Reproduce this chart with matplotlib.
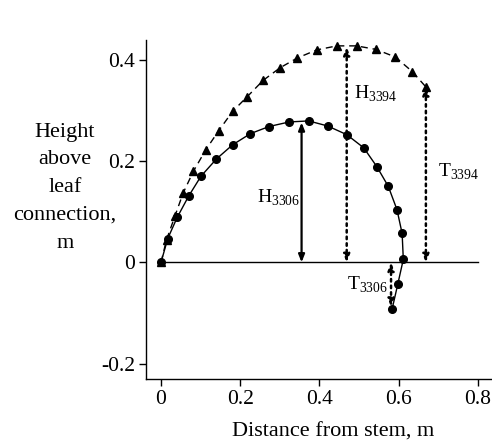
import matplotlib
matplotlib.use("Agg")
import matplotlib.pyplot as plt

plt.rcParams["font.family"] = "Liberation Serif"
plt.rcParams["mathtext.fontset"] = "custom"
plt.rcParams["mathtext.rm"] = "Liberation Serif"

# leaf 3306 (circles, solid)
x3306 = [0.0, 0.017, 0.041, 0.070, 0.101, 0.140, 0.181, 0.226, 0.273, 0.324,
         0.373, 0.421, 0.469, 0.512, 0.545, 0.574, 0.596, 0.609, 0.612,
         0.598, 0.584]
y3306 = [0.0, 0.047, 0.089, 0.131, 0.170, 0.204, 0.232, 0.254, 0.268, 0.277,
         0.279, 0.269, 0.252, 0.226, 0.189, 0.150, 0.104, 0.057, 0.006,
         -0.043, -0.091]

# leaf 3394 (triangles, dashed)
x3394 = [0.0, 0.014, 0.035, 0.056, 0.082, 0.113, 0.146, 0.181, 0.218, 0.258,
         0.301, 0.344, 0.393, 0.444, 0.494, 0.543, 0.592, 0.635, 0.669]
y3394 = [0.0, 0.045, 0.091, 0.137, 0.180, 0.222, 0.260, 0.298, 0.327, 0.359,
         0.384, 0.403, 0.419, 0.427, 0.427, 0.420, 0.405, 0.376, 0.346]

# double arrows: (x, y0, y1, style, letter, subscript, label x, label baseline y)
arrows = [
    (0.355, 0.0, 0.276, "-", "H", "3306", 0.242, 0.118),
    (0.469, 0.0, 0.425, ":", "H", "3394", 0.488, 0.322),
    (0.669, 0.0, 0.346, ":", "T", "3394", 0.700, 0.169),
    (0.581, 0.0, -0.088, ":", "T", "3306", 0.469, -0.053),
]

ylabel_lines = ["Height", "above", "leaf", "connection,", "m"]

fig = plt.figure(figsize=(4.92, 4.40), dpi=100)
ax = fig.add_axes([0.2967, 0.1386, 0.7033, 0.7705])

ax.plot([0, 0.8], [0, 0], color="black", lw=1.0)
ax.plot(x3306, y3306, "-", color="black", lw=1.0, marker="o", markersize=5.5)
ax.plot(x3394, y3394, color="black", lw=1.0, ls=(0, (5, 3.5)),
        marker="^", markersize=6)

for x, y0, y1, ls, letter, sub, lx, ly in arrows:
    lw = 1.6 if ls == "-" else 1.8
    ax.annotate("", xy=(x, y1), xytext=(x, y0),
                arrowprops=dict(arrowstyle="<|-|>,head_length=0.45,head_width=0.18",
                                color="black", lw=lw, linestyle=ls,
                                shrinkA=0, shrinkB=0))
    ax.text(lx, ly, letter + r"$_{\mathregular{" + sub + "}}$", fontsize=14,
            va="baseline", ha="left")

ax.set_xlim(-0.038, 0.836)
ax.set_ylim(-0.23, 0.4386)
ax.set_xticks([0, 0.2, 0.4, 0.6, 0.8])
ax.set_xticklabels(["0", "0.2", "0.4", "0.6", "0.8"])
ax.set_yticks([-0.2, 0, 0.2, 0.4])
ax.set_yticklabels(["-0.2", "0", "0.2", "0.4"])
ax.tick_params(labelsize=15.5, length=5, width=1, direction="out", pad=3)

for side in ["top", "right"]:
    ax.spines[side].set_visible(False)
for side in ["left", "bottom"]:
    ax.spines[side].set_linewidth(1.0)

fig.text(333 / 492, 1 - 432 / 440, "Distance from stem, m", fontsize=16,
         ha="center", va="center")

# y label, one line at a time
for i, line in enumerate(ylabel_lines):
    fig.text(65 / 492, 1 - (132 + 27.8 * i) / 440, line, fontsize=16,
             ha="center", va="center")

fig.savefig("out.png", dpi=100)
